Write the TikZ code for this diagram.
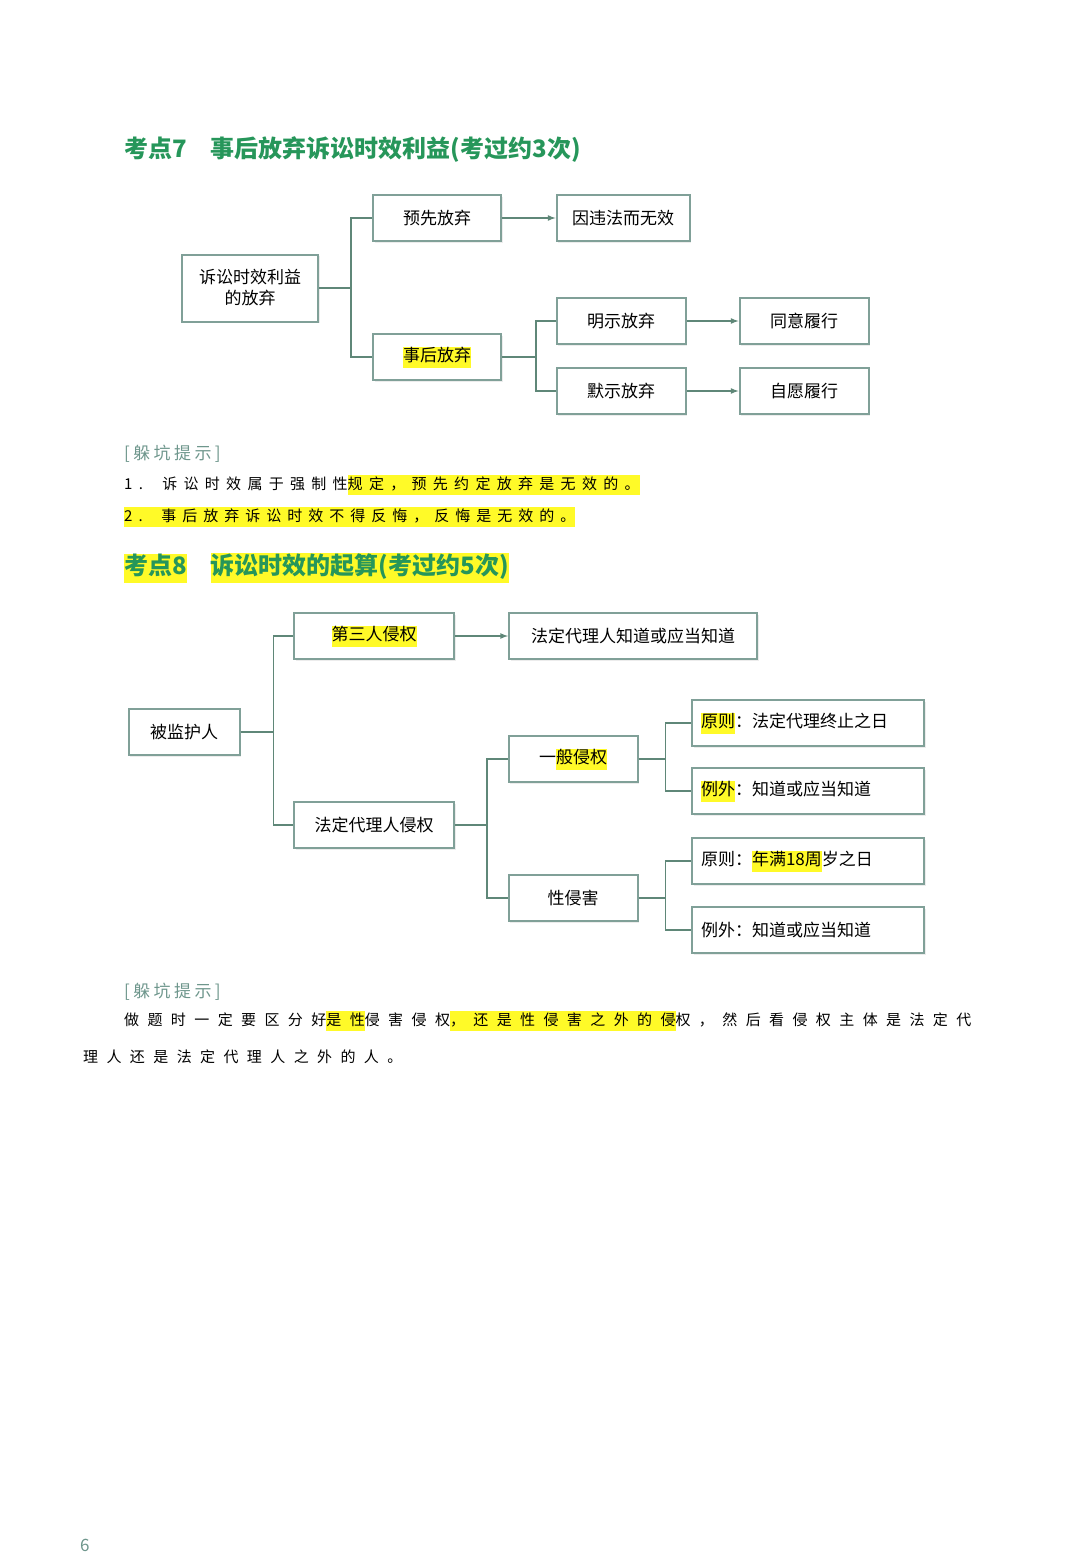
\documentclass[tikz,border=0pt]{standalone}
\usepackage{fontspec}
\setmainfont{Noto Sans CJK SC}
\usetikzlibrary{positioning,shadows}
\definecolor{headgreen}{RGB}{38,150,90}
\definecolor{boxline}{RGB}{128,160,152}
\definecolor{linkline}{RGB}{95,135,120}
\definecolor{tipgray}{RGB}{110,150,140}
\definecolor{hiyellow}{RGB}{255,250,40}
\newcommand{\hy}[1]{{\setlength{\fboxsep}{0pt}\colorbox{hiyellow}{\strut #1}}}

\begin{document}
\begin{tikzpicture}[
    x=1pt, y=-1pt,
    node distance=20pt,
    box/.style={rectangle, draw=boxline, line width=2pt, fill=white, text centered, inner sep=0pt, font=\fontsize{17}{21}\selectfont, drop shadow={shadow xshift=1.5pt, shadow yshift=-1.5pt, fill=black!15}},
    link/.style={linkline, line width=1.6pt},
    arrow/.style={link, -latex},
    head/.style={anchor=west, inner sep=0pt, font=\fontsize{24}{28}\selectfont\bfseries},
    tip/.style={anchor=west, inner sep=0pt, font=\fontsize{16}{20}\selectfont}
]
\useasboundingbox (0,0) rectangle (1080,1555);

% Title 7
\node[head, text=headgreen] (title1) at (124,150) {考点7\quad 事后放弃诉讼时效利益(考过约3次)};

% first tree
\node[box, minimum width=136, minimum height=67, text width=120] (root1) at (250,288) {诉讼时效利益\\的放弃};
\node[box, minimum width=128, minimum height=46] (pre) at (437,218) {预先放弃};
\node[box, minimum width=133, minimum height=46] (void) at (623,218) {因违法而无效};
\node[box, minimum width=128, minimum height=46] (post) at (437,357) {\hy{事后放弃}};
\node[box, minimum width=129, minimum height=46] (expl) at (621,321) {明示放弃};
\node[box, minimum width=129, minimum height=46] (agree) at (804,321) {同意履行};
\node[box, minimum width=129, minimum height=46] (impl) at (621,391) {默示放弃};
\node[box, minimum width=129, minimum height=46] (will) at (804,391) {自愿履行};

\draw[link] (root1.east) -- ++(32,0) |- (pre.west);
\draw[link] (root1.east) -- ++(32,0) |- (post.west);
\draw[link] (post.east) -- ++(34,0) |- (expl.west);
\draw[link] (post.east) -- ++(34,0) |- (impl.west);
\draw[arrow] (pre) -- (void);
\draw[arrow] (expl) -- (agree);
\draw[arrow] (impl) -- (will);

% tips 7
\node[tip, text=tipgray, font=\fontsize{17}{20}\selectfont\addfontfeature{LetterSpace=20}] (tipA) at (124,454) {[躲坑提示]};
\node[tip, font=\fontsize{15}{20}\selectfont\addfontfeature{LetterSpace=42}] (tipA1) at (124,485) {1.\ \ 诉讼时效属于强制性\hy{规定，预先约定放弃是无效的。}};
\node[tip, font=\fontsize{15}{20}\selectfont\addfontfeature{LetterSpace=40}] (tipA2) at (124,517) {\hy{2.\ \ 事后放弃诉讼时效不得反悔，反悔是无效的。}};

% Title 8
\node[head, text=headgreen] (title2) at (124,568) {\hy{考点8}\quad\hy{诉讼时效的起算(考过约5次)}};

% second tree
\node[box, minimum width=111, minimum height=46] (root2) at (184,732) {被监护人};
\node[box, minimum width=160, minimum height=46] (third) at (374,636) {\hy{第三人侵权}};
\node[box, minimum width=248, minimum height=46] (know) at (633,636) {法定代理人知道或应当知道};
\node[box, minimum width=160, minimum height=46] (agent) at (374,825) {法定代理人侵权};
\node[box, minimum width=129, minimum height=46] (gen) at (573,759) {一\hy{般侵权}};
\node[box, minimum width=129, minimum height=46] (sex) at (573,898) {性侵害};
\node[box, minimum width=232, minimum height=46, text width=214, align=left] (r1) at (808,723) {\hy{原则}：法定代理终止之日};
\node[box, minimum width=232, minimum height=46, text width=214, align=left] (e1) at (808,791) {\hy{例外}：知道或应当知道};
\node[box, minimum width=232, minimum height=46, text width=214, align=left] (r2) at (808,861) {原则：\hy{年满18周}岁之日};
\node[box, minimum width=232, minimum height=46, text width=214, align=left] (e2) at (808,930) {例外：知道或应当知道};

\draw[link] (root2.east) -- ++(33,0) |- (third.west);
\draw[link] (root2.east) -- ++(33,0) |- (agent.west);
\draw[link] (agent.east) -- ++(32,0) |- (gen.west);
\draw[link] (agent.east) -- ++(32,0) |- (sex.west);
\draw[link] (gen.east) -- ++(27,0) |- (r1.west);
\draw[link] (gen.east) -- ++(27,0) |- (e1.west);
\draw[link] (sex.east) -- ++(27,0) |- (r2.west);
\draw[link] (sex.east) -- ++(27,0) |- (e2.west);
\draw[arrow] (third) -- (know);

% tips 8
\node[tip, text=tipgray, font=\fontsize{17}{20}\selectfont\addfontfeature{LetterSpace=20}] (tipB) at (124,992) {[躲坑提示]};
\node[tip, font=\fontsize{15}{20}\selectfont\addfontfeature{LetterSpace=56}] (tipB1) at (124,1021) {做题时一定要区分好\hy{是性}侵害侵权\hy{，还是性侵害之外的侵}权，然后看侵权主体是法定代};
\node[tip, font=\fontsize{15}{20}\selectfont\addfontfeature{LetterSpace=56}] (tipB2) at (83,1057) {理人还是法定代理人之外的人。};

% page number
\node[tip, text=tipgray, font=\fontsize{17}{20}\selectfont] (page) at (80,1545) {6};
\end{tikzpicture}
\end{document}
